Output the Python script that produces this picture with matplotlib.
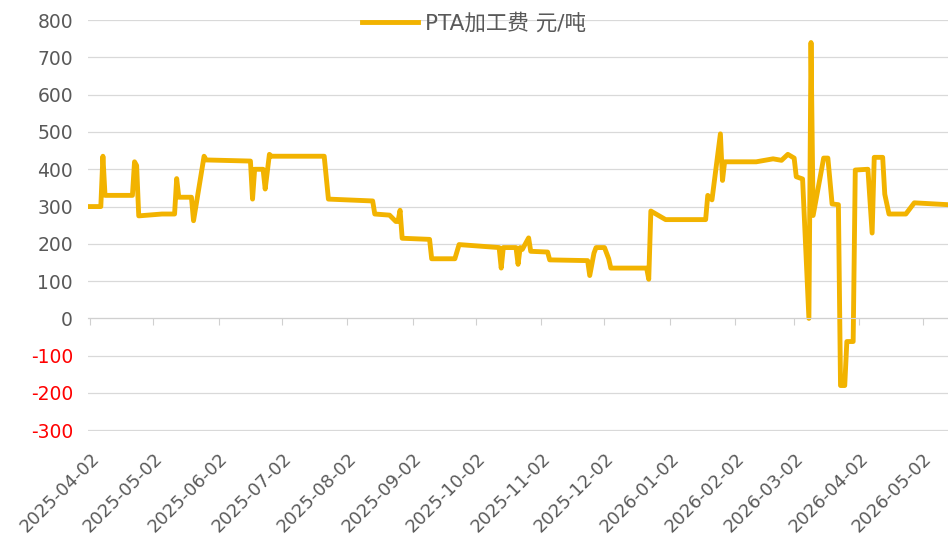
import matplotlib.pyplot as plt
import matplotlib.dates as mdates
import pandas as pd

plt.rcParams['font.family'] = ['DejaVu Sans', 'Noto Sans CJK SC']
plt.rcParams['axes.unicode_minus'] = False

# PTA加工费 数据
dates = [
    "2025-04-02", "2025-04-07", "2025-04-08", "2025-04-09", "2025-04-22", "2025-04-23",
    "2025-04-24", "2025-04-25", "2025-05-06", "2025-05-12", "2025-05-13", "2025-05-14",
    "2025-05-20", "2025-05-21", "2025-05-26", "2025-05-27", "2025-06-17", "2025-06-18",
    "2025-06-19", "2025-06-23", "2025-06-24", "2025-06-26", "2025-06-27", "2025-07-22",
    "2025-07-24", "2025-08-14", "2025-08-15", "2025-08-22", "2025-08-25", "2025-08-26",
    "2025-08-27", "2025-08-28", "2025-09-10", "2025-09-11", "2025-09-22", "2025-09-24",
    "2025-10-13", "2025-10-14", "2025-10-15", "2025-10-21", "2025-10-22", "2025-10-23",
    "2025-10-24", "2025-10-27", "2025-10-28", "2025-11-05", "2025-11-06", "2025-11-24",
    "2025-11-25", "2025-11-27", "2025-11-28", "2025-12-02", "2025-12-04", "2025-12-05",
    "2025-12-22", "2025-12-23", "2025-12-24", "2025-12-31", "2026-01-19", "2026-01-20",
    "2026-01-22", "2026-01-26", "2026-01-27", "2026-01-28", "2026-02-12", "2026-02-20",
    "2026-02-24", "2026-02-27", "2026-03-02", "2026-03-03", "2026-03-06", "2026-03-09",
    "2026-03-10", "2026-03-11", "2026-03-16", "2026-03-18", "2026-03-20", "2026-03-23",
    "2026-03-24", "2026-03-26", "2026-03-27", "2026-03-30", "2026-03-31", "2026-04-06",
    "2026-04-08", "2026-04-09", "2026-04-13", "2026-04-14", "2026-04-16", "2026-04-24",
    "2026-04-28", "2026-05-14",
]
fees = [
    300, 300, 435, 330, 330, 420,
    410, 275, 280, 280, 375, 325,
    325, 262, 435, 425, 422, 320,
    400, 400, 347, 440, 435, 435,
    320, 315, 280, 277, 260, 260,
    290, 215, 212, 160, 160, 198,
    190, 135, 190, 190, 145, 190,
    185, 216, 180, 178, 157, 155,
    115, 175, 190, 190, 160, 135,
    135, 105, 288, 265, 265, 330,
    318, 495, 370, 420, 420, 428,
    424, 440, 430, 380, 374, 0,
    740, 276, 430, 430, 307, 305,
    -180, -180, -62, -62, 398, 400,
    229, 432, 432, 333, 280, 280,
    310, 305,
]
tick_dates = pd.date_range("2025-04-01", "2026-05-01", freq="MS") + pd.Timedelta(days=1)
y_ticks = list(range(-300, 801, 100))

x = pd.to_datetime(dates)

fig = plt.figure(figsize=(9.48, 5.44), dpi=100)
ax = fig.add_axes([0.093, 0.207, 0.907, 0.756])

ax.plot(x, fees, color='#F2B300', lw=3.5, label='PTA加工费 元/吨')

ax.set_ylim(-303, 800)
ax.set_xlim(pd.Timestamp("2025-04-01"), pd.Timestamp("2026-05-14"))
ax.set_yticks(y_ticks)
ax.yaxis.grid(True, color='#D9D9D9', lw=0.9)
ax.set_axisbelow(True)

for s in ['top', 'right', 'left']:
    ax.spines[s].set_visible(False)
ax.spines['bottom'].set_position(('data', 0))
ax.spines['bottom'].set_color('#D0D0D0')
ax.set_xticks(tick_dates)
ax.tick_params(axis='x', length=5, color='#D0D0D0', labelbottom=False)
ax.tick_params(axis='y', length=0, pad=11, labelsize=13.5, labelcolor='#595959')
for lab, v in zip(ax.get_yticklabels(), y_ticks):
    if v < 0:
        lab.set_color('#FF0000')

# 日期标签放在图底部
sec = ax.secondary_xaxis('bottom')
sec.set_xticks(tick_dates)
sec.xaxis.set_major_formatter(mdates.DateFormatter('%Y-%m-%d'))
sec.spines['bottom'].set_visible(False)
sec.tick_params(axis='x', length=0, pad=13, labelsize=13, labelcolor='#595959')
for lab in sec.get_xticklabels():
    lab.set_rotation(45)
    lab.set_ha('right')
    lab.set_rotation_mode('anchor')

fig.legend(loc='upper center', bbox_to_anchor=(0.5, 1.012), frameon=False,
           fontsize=15.5, labelcolor='#595959', handlelength=2.6, handletextpad=0.3)

plt.savefig('out.png', dpi=100)
